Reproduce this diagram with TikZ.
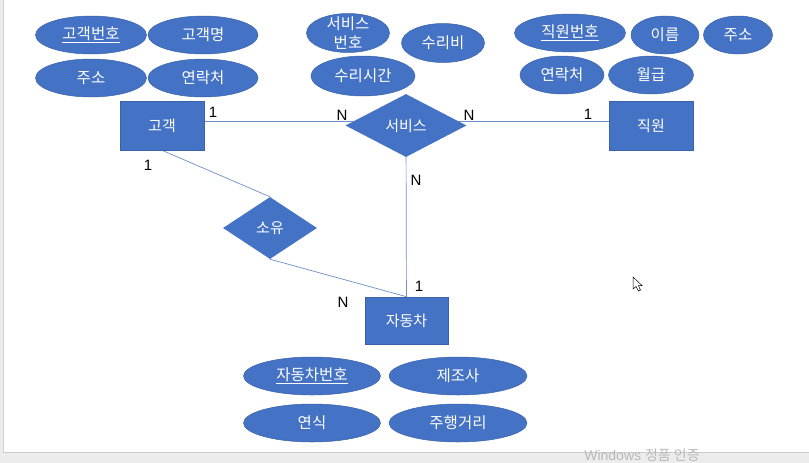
\documentclass[tikz,border=0pt]{standalone}
\usepackage{fontspec}
\setmainfont{Liberation Sans}
\newfontfamily\kor{Noto Sans CJK KR}
\usetikzlibrary{shapes.geometric,backgrounds}
\definecolor{erblue}{HTML}{4472C4}
\definecolor{erline}{HTML}{3A62A8}
\definecolor{linkblue}{HTML}{6F8FC9}
\begin{document}
\begin{tikzpicture}[x=1pt,y=-1pt,
	attr/.style={ellipse,fill=erblue,draw=erline,line width=0.5pt,inner sep=0pt,minimum height=38pt,text=white,font=\kor\fontsize{15.5pt}{19pt}\selectfont},
	entity/.style={rectangle,fill=erblue,draw=erline,line width=0.6pt,minimum width=84pt,minimum height=49pt,text=white,font=\kor\fontsize{15pt}{18pt}\selectfont},
	relation/.style={diamond,fill=erblue,inner sep=0pt,text=white,font=\kor\fontsize{15pt}{18pt}\selectfont},
	link/.style={draw=linkblue,line width=0.7pt},
	card/.style={font=\fontsize{15pt}{18pt}\selectfont}]
				\useasboundingbox (0,0) rectangle (809,463);
				\begin{scope}[on background layer]
				\fill[white] (0,0) rectangle (809,463);
				\fill[gray!15] (0,0) rectangle (3,452);
				\draw[gray!35,line width=0.8pt] (3,0) -- (3,452);
				\fill[gray!15] (0,452) rectangle (809,463);
				\draw[gray!40,line width=0.8pt] (3,452) -- (809,452);
				\end{scope}
				% customer
				\node[attr,minimum width=111pt] (cno) at (91,35) {\underline{고객번호}};
				\node[attr,minimum width=110pt] (cname) at (203,35) {고객명};
				\node[attr,minimum width=111pt] (caddr) at (91,78) {주소};
				\node[attr,minimum width=110pt] (ctel) at (203,78) {연락처};
				\node[entity] (customer) at (162,125.5) {고객};
				% service
				\node[attr,minimum width=83pt,minimum height=39pt,label={[text=white,align=center,font=\kor\fontsize{15.5pt}{19pt}\selectfont]center:서비스\\번호}] (sno) at (348,33) {};
				\node[attr,minimum width=83pt,minimum height=39pt] (fee) at (443,43) {수리비};
				\node[attr,minimum width=104pt,minimum height=40pt] (stime) at (363,76) {수리시간};
				\node[relation,minimum width=121pt,minimum height=63pt] (service) at (406,125.5) {서비스};
				% employee
				\node[attr,minimum width=111pt] (eno) at (570,33) {\underline{직원번호}};
				\node[attr,minimum width=68pt] (ename) at (665,35) {이름};
				\node[attr,minimum width=69pt] (eaddr) at (738,35) {주소};
				\node[attr,minimum width=84pt] (etel) at (562,75) {연락처};
				\node[attr,minimum width=85pt] (epay) at (651,75) {월급};
				\node[entity] (employee) at (651,125.5) {직원};
				% car
				\node[relation,minimum width=94pt,minimum height=62pt] (own) at (270,228) {소유};
				\node[entity,minimum width=83pt,minimum height=47pt] (car) at (406.5,320.5) {자동차};
				\node[attr,minimum width=137pt] (carno) at (312,376) {\underline{자동차번호}};
				\node[attr,minimum width=138pt] (maker) at (458,376) {제조사};
				\node[attr,minimum width=137pt] (year) at (312,423) {연식};
				\node[attr,minimum width=138pt] (mileage) at (458,423) {주행거리};
				\begin{scope}[on background layer]
				\draw[link] ([yshift=4pt]customer.center) -- ([yshift=4pt]service.center) -- ([yshift=4pt]employee.center);
				\draw[link] (service.center) -- (car.center);
				\draw[link] (customer.south) -- (own.north);
				\draw[link] (own.south) -- (car.north);
				\end{scope}
				\node[card] (k1) at (213,112) {1};
				\node[card] (k2) at (342,115) {N};
				\node[card] (k3) at (469,115) {N};
				\node[card] (k4) at (588,114) {1};
				\node[card] (k5) at (148,165) {1};
				\node[card] (k6) at (416,180) {N};
				\node[card] (k7) at (419,286) {1};
				\node[card] (k8) at (343,302) {N};
				\node[text=gray!55,font=\fontsize{14pt}{16pt}\selectfont,anchor=base,inner sep=0pt] (wm) at (642,460) {Windows {\kor 정품 인증}};
				\draw[fill=white,line width=0.5pt] (633,277) -- (633,289) -- (636,286.5) -- (638.5,291) -- (640.5,290) -- (638.3,285.5) -- (642,285.5) -- cycle;
			\end{tikzpicture}
\end{document}
